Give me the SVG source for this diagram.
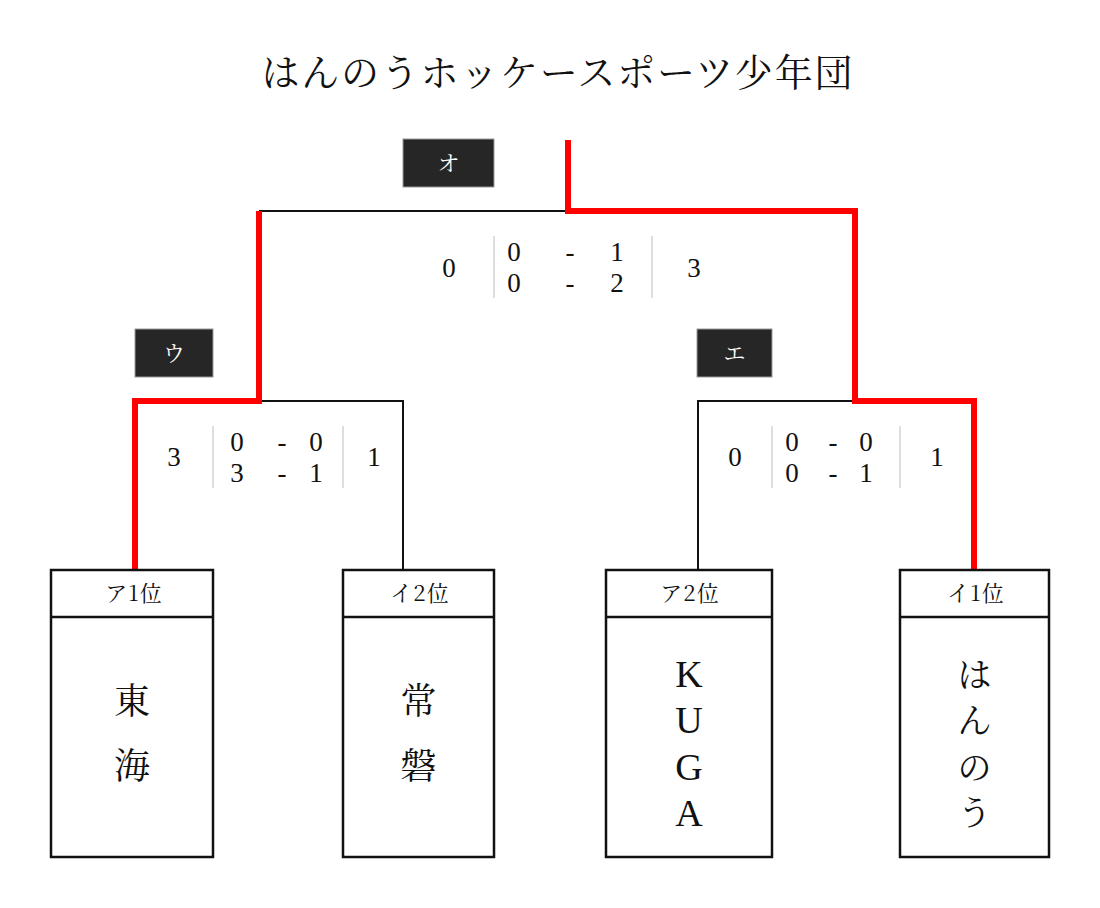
<svg xmlns="http://www.w3.org/2000/svg" width="1100" height="908" viewBox="0 0 1100 908">
<style>
.jp{font-family:"Noto Serif CJK JP","Noto Sans CJK JP",sans-serif;fill:#111}
.num{font-family:"Liberation Serif",serif;font-size:27px;fill:#111;text-anchor:middle}
.hdr{font-size:22px;text-anchor:middle;letter-spacing:1px}
.body{font-size:36px;text-anchor:middle}
.lat{font-family:"Liberation Serif",serif;font-size:38px;fill:#111;text-anchor:middle}
.tag rect{fill:#262626;stroke:#999;stroke-width:1}
.tag text{font-family:"Noto Serif CJK JP","Noto Sans CJK JP",sans-serif;font-size:22px;fill:#fff;text-anchor:middle}
.box rect{fill:#fff;stroke:#111;stroke-width:2.5}
.box line{stroke:#111;stroke-width:2.5}
.blk{fill:none;stroke:#111;stroke-width:2}
.red{fill:none;stroke:#ff0000;stroke-width:6;stroke-linejoin:miter}
.div{stroke:#c8c8c8;stroke-width:1.2}
</style>
<rect width="1100" height="908" fill="#fff"/>
<text class="jp" x="557" y="86" font-size="38" text-anchor="middle" textLength="591" lengthAdjust="spacing">はんのうホッケースポーツ少年団</text>

<g id="connectors">
<path class="blk" d="M259 211 H568"/>
<path class="blk" d="M259 401 H403 V570"/>
<path class="blk" d="M698 570 V401 H855"/>
<path class="red" d="M568 140 V211 H855 V401 H974 V570"/>
<path class="red" d="M259 211 V401 H135 V570"/>
</g>

<g id="tag-o" class="tag"><rect x="403" y="139" width="91" height="48"/><text x="448.5" y="171">オ</text></g>
<g id="tag-u" class="tag"><rect x="135" y="329" width="78" height="48"/><text x="174" y="361">ウ</text></g>
<g id="tag-e" class="tag"><rect x="697" y="329" width="75" height="48"/><text x="734.5" y="361">エ</text></g>

<g id="score-final">
<line class="div" x1="494" y1="236" x2="494" y2="298"/>
<line class="div" x1="652" y1="236" x2="652" y2="298"/>
<text class="num" x="449" y="277">0</text>
<text class="num" x="514" y="261">0</text><text class="num" x="570" y="261">-</text><text class="num" x="617" y="261">1</text>
<text class="num" x="514" y="292">0</text><text class="num" x="570" y="292">-</text><text class="num" x="617" y="292">2</text>
<text class="num" x="694" y="277">3</text>
</g>

<g id="score-left">
<line class="div" x1="213" y1="426" x2="213" y2="488"/>
<line class="div" x1="343" y1="426" x2="343" y2="488"/>
<text class="num" x="174" y="466">3</text>
<text class="num" x="237" y="451">0</text><text class="num" x="282" y="451">-</text><text class="num" x="316" y="451">0</text>
<text class="num" x="237" y="482">3</text><text class="num" x="282" y="482">-</text><text class="num" x="316" y="482">1</text>
<text class="num" x="374" y="466">1</text>
</g>

<g id="score-right">
<line class="div" x1="772" y1="426" x2="772" y2="488"/>
<line class="div" x1="900" y1="426" x2="900" y2="488"/>
<text class="num" x="735" y="466">0</text>
<text class="num" x="792" y="451">0</text><text class="num" x="833" y="451">-</text><text class="num" x="866" y="451">0</text>
<text class="num" x="792" y="482">0</text><text class="num" x="833" y="482">-</text><text class="num" x="866" y="482">1</text>
<text class="num" x="937" y="466">1</text>
</g>

<g id="team-tokai" class="box">
<rect x="51" y="570" width="162" height="287"/><line x1="51" y1="617" x2="213" y2="617"/>
<text class="jp hdr" x="134" y="601">ア1位</text>
<text class="jp body" x="132" y="714">東</text>
<text class="jp body" x="132" y="779">海</text>
</g>

<g id="team-tokiwa" class="box">
<rect x="343" y="570" width="151" height="287"/><line x1="343" y1="617" x2="494" y2="617"/>
<text class="jp hdr" x="420" y="601">イ2位</text>
<text class="jp body" x="418.5" y="714">常</text>
<text class="jp body" x="418.5" y="779">磐</text>
</g>

<g id="team-kuga" class="box">
<rect x="606" y="570" width="166" height="287"/><line x1="606" y1="617" x2="772" y2="617"/>
<text class="jp hdr" x="690" y="601">ア2位</text>
<text class="lat" x="689" y="687">K</text>
<text class="lat" x="689" y="733">U</text>
<text class="lat" x="689" y="780">G</text>
<text class="lat" x="689" y="826">A</text>
</g>

<g id="team-hanno" class="box">
<rect x="900" y="570" width="149" height="287"/><line x1="900" y1="617" x2="1049" y2="617"/>
<text class="jp hdr" x="976" y="601">イ1位</text>
<text class="jp" x="974.5" y="687" font-size="34" text-anchor="middle">は</text>
<text class="jp" x="974.5" y="733" font-size="34" text-anchor="middle">ん</text>
<text class="jp" x="974.5" y="780" font-size="34" text-anchor="middle">の</text>
<text class="jp" x="974.5" y="825" font-size="34" text-anchor="middle">う</text>
</g>
</svg>
